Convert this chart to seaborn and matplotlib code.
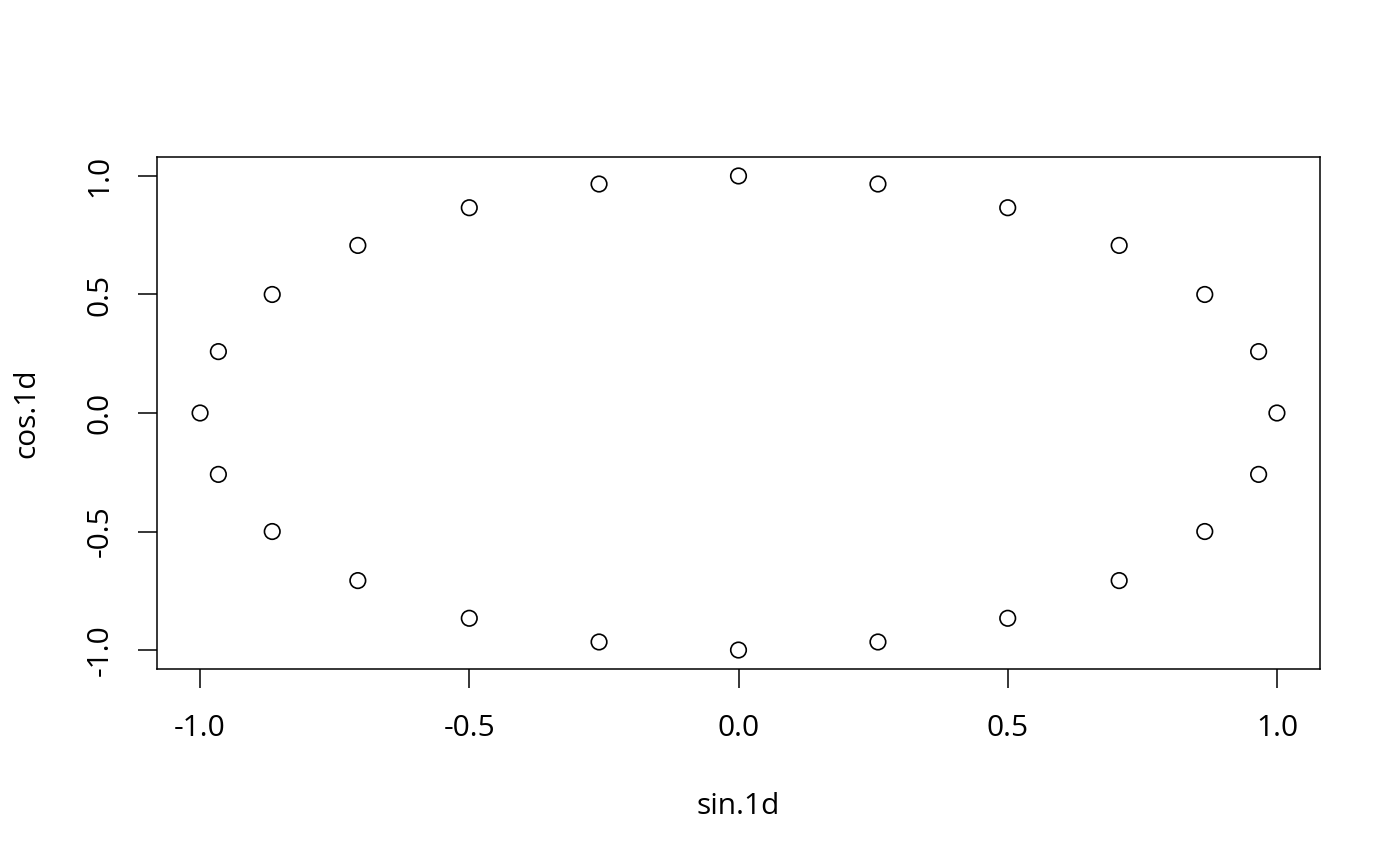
import matplotlib
matplotlib.use("Agg")
import matplotlib.pyplot as plt
import seaborn as sns
import pandas as pd

# points (24 points around the circle)
sin_1d = [0.000, 0.259, 0.500, 0.707, 0.866, 0.966, 1.000, 0.966, 0.866, 0.707, 0.500, 0.259,
          0.000, -0.259, -0.500, -0.707, -0.866, -0.966, -1.000, -0.966, -0.866, -0.707, -0.500, -0.259]
cos_1d = [1.000, 0.966, 0.866, 0.707, 0.500, 0.259, 0.000, -0.259, -0.500, -0.707, -0.866, -0.966,
          -1.000, -0.966, -0.866, -0.707, -0.500, -0.259, 0.000, 0.259, 0.500, 0.707, 0.866, 0.966]
x_ticks = [-1.0, -0.5, 0.0, 0.5, 1.0]
y_ticks = [-1.0, -0.5, 0.0, 0.5, 1.0]
tick_labels = ["-1.0", "-0.5", "0.0", "0.5", "1.0"]

df = pd.DataFrame({"sin.1d": sin_1d, "cos.1d": cos_1d})

sns.set_style("white")
plt.rcParams["font.family"] = ["Open Sans", "DejaVu Sans"]

fig = plt.figure(figsize=(14, 8.66), dpi=100)
ax = fig.add_axes([157 / 1400, 1 - 669 / 866, (1320 - 157) / 1400, (669 - 157) / 866])

sns.scatterplot(data=df, x="sin.1d", y="cos.1d", ax=ax, s=125,
                facecolor="none", edgecolor="black", linewidth=1.2)

ax.set_xlim(-1.08, 1.08)
ax.set_ylim(-1.08, 1.08)
ax.set_xticks(x_ticks)
ax.set_xticklabels(tick_labels)
ax.set_yticks(y_ticks)
ax.set_yticklabels(tick_labels, rotation=90, va="center")

for sp in ax.spines.values():
    sp.set_visible(True)
    sp.set_color("black")
    sp.set_linewidth(1.1)

ax.tick_params(axis="both", direction="out", length=13.5, width=1.1, color="black",
               labelsize=21.5, labelcolor="black", left=True, bottom=True)
ax.tick_params(axis="x", pad=19)
ax.tick_params(axis="y", pad=17)

ax.set_xlabel("sin.1d", fontsize=21.5, labelpad=35, color="black")
ax.set_ylabel("cos.1d", fontsize=21.5, labelpad=32, color="black")

fig.savefig("out.png", dpi=100)
